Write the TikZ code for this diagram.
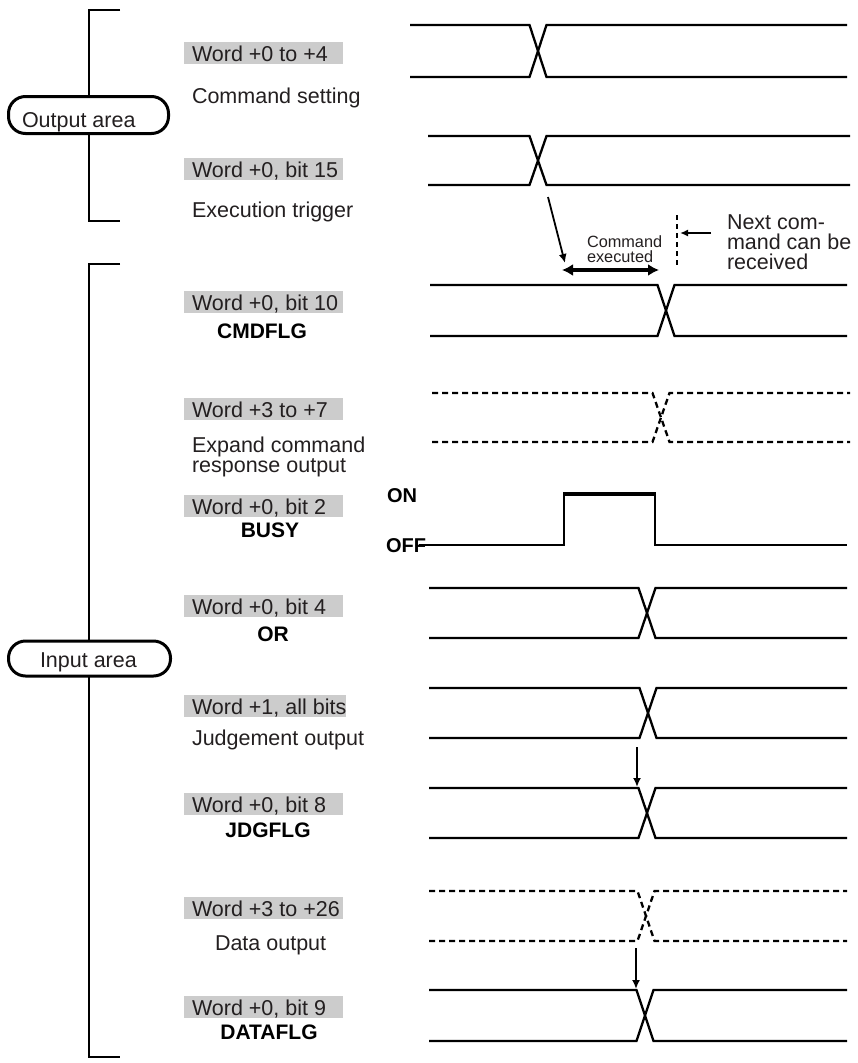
\documentclass[tikz,border=0pt]{standalone}
\usepackage{fontspec}
\setmainfont{Liberation Sans}
\usetikzlibrary{arrows.meta}
\definecolor{labgray}{RGB}{204,204,204}
\definecolor{ink}{RGB}{35,31,32}
\newcommand\busX[6]{%
  \draw[#1] (#2,#5) -- ({#3-8.5},#5) -- ({#3+8.5},#6) -- (#4,#6);
  \draw[#1] (#2,#6) -- ({#3-8.5},#6) -- ({#3+8.5},#5) -- (#4,#5);
}
\newcommand\glab[4]{%
  \node[graybox, minimum width=#3] (#1box) at (184,#2) {};
  \node[txt] (#1) at (192,{#2+19.7}) {#4};
}
\begin{document}
\begin{tikzpicture}[x=1pt,y=-1pt,
  every node/.style={inner sep=0pt, outer sep=0pt},
  txt/.style={anchor=base west, text=ink, font=\fontsize{21.5}{21.5}\selectfont},
  multi/.style={anchor=base west, text=ink, align=left, font=\fontsize{21.5}{20}\selectfont},
  small/.style={anchor=base west, text=ink, align=left, font=\fontsize{16.3}{14.5}\selectfont},
  flag/.style={anchor=base, text=black, font=\fontsize{21}{21}\selectfont\bfseries},
  flagw/.style={anchor=base west, text=black, font=\fontsize{20}{20}\selectfont\bfseries},
  graybox/.style={fill=labgray, anchor=north west, minimum height=22pt},
  area/.style={draw=black, line width=3pt, fill=white, rounded corners=17pt},
  bracket/.style={line width=2pt, black},
  sig/.style={line width=2.3pt, black, line join=miter},
  dsig/.style={line width=2.3pt, black, dash pattern=on 6pt off 4pt},
  arr/.style={line width=1.8pt, -{Latex[length=9pt,width=8pt]}},
]
\useasboundingbox (0,0) rectangle (857,1063);

% brackets
\draw[bracket] (120,10) -- (89,10) -- (89,221) -- (120,221);
\draw[bracket] (120,264) -- (89,264) -- (89,1057) -- (120,1057);

% area boxes
\node[area, minimum width=160pt, minimum height=37pt] (outbox) at (88.5,115) {};
\node[txt] (outlbl) at (22,127) {Output area};
\node[area, minimum width=162pt, minimum height=35pt] (inbox) at (89.5,658.5) {};
\node[txt] (inlbl) at (40,667) {Input area};

% labels
\glab{l1}{42}{159pt}{Word +0 to +4}
\node[txt] (t1) at (192,103.5) {Command setting};
\glab{l2}{158}{159pt}{Word +0, bit 15}
\node[txt] (t2) at (192,217) {Execution trigger};
\glab{l3}{291}{159pt}{Word +0, bit 10}
\node[flag] (f3) at (262,338) {CMDFLG};
\glab{l4}{398}{159pt}{Word +3 to +7}
\node[multi] (t4) at (192,472) {Expand command\\response output};
\glab{l5}{495}{159pt}{Word +0, bit 2}
\node[flag] (f5) at (270,537) {BUSY};
\node[flagw] (on) at (387,502) {ON};
\node[flagw] (off) at (386,552) {OFF};
\glab{l6}{595}{159pt}{Word +0, bit 4}
\node[flag] (f6) at (273,641) {OR};
\glab{l7}{695}{162pt}{Word +1, all bits}
\node[txt] (t7) at (192,745) {Judgement output};
\glab{l8}{793}{159pt}{Word +0, bit 8}
\node[flag] (f8) at (268,837) {JDGFLG};
\glab{l9}{897}{159pt}{Word +3 to +26}
\node[txt] (t9) at (215,950) {Data output};
\glab{l10}{996}{159pt}{Word +0, bit 9}
\node[flag] (f10) at (269,1039) {DATAFLG};

% waveforms
\busX{sig}{410}{538}{847}{25}{77}
\busX{sig}{428}{538}{850}{136}{185}
\busX{sig}{430}{666}{847}{285}{336}
\busX{dsig}{432}{661}{850}{393}{442}
\coordinate (b0) at (419,545);
\draw[sig] (b0) -- (564,545) -- (564,493) -- (655,493) -- (655,545) -- (847,545);
\draw[line width=4pt] (563,493.5) -- (656,493.5);
\busX{sig}{429}{647}{847}{588}{638}
\busX{sig}{429}{648}{847}{688}{738}
\busX{sig}{429}{647}{847}{788}{838}
\busX{dsig}{429}{646}{847}{891}{941}
\busX{sig}{429}{645}{847}{990}{1041}

% annotations
\coordinate (a1s) at (548,197);
\coordinate (a1e) at (565,263);
\draw[arr] (a1s) -- (a1e);
\coordinate (ce1) at (562,270);
\coordinate (ce2) at (659,270);
\draw[line width=3.5pt, {Latex[length=11pt,width=12pt]}-{Latex[length=11pt,width=12pt]}] (ce1) -- (ce2);
\node[small] (cmd) at (587,262) {Command\\executed};
\coordinate (nx1) at (677,215);
\coordinate (nx2) at (677,265);
\draw[line width=2.5pt, dash pattern=on 5pt off 4pt] (nx1) -- (nx2);
\coordinate (na1) at (711,233);
\coordinate (na2) at (680,233);
\draw[line width=1.8pt, -{Latex[length=8pt,width=7pt]}] (na1) -- (na2);
\node[multi] (next) at (727,269) {Next com-\\mand can be\\received};
\coordinate (j1) at (637,747);
\coordinate (j2) at (637,787);
\draw[arr] (j1) -- (j2);
\coordinate (d1) at (636,948);
\coordinate (d2) at (636,989);
\draw[arr] (d1) -- (d2);
\end{tikzpicture}
\end{document}
